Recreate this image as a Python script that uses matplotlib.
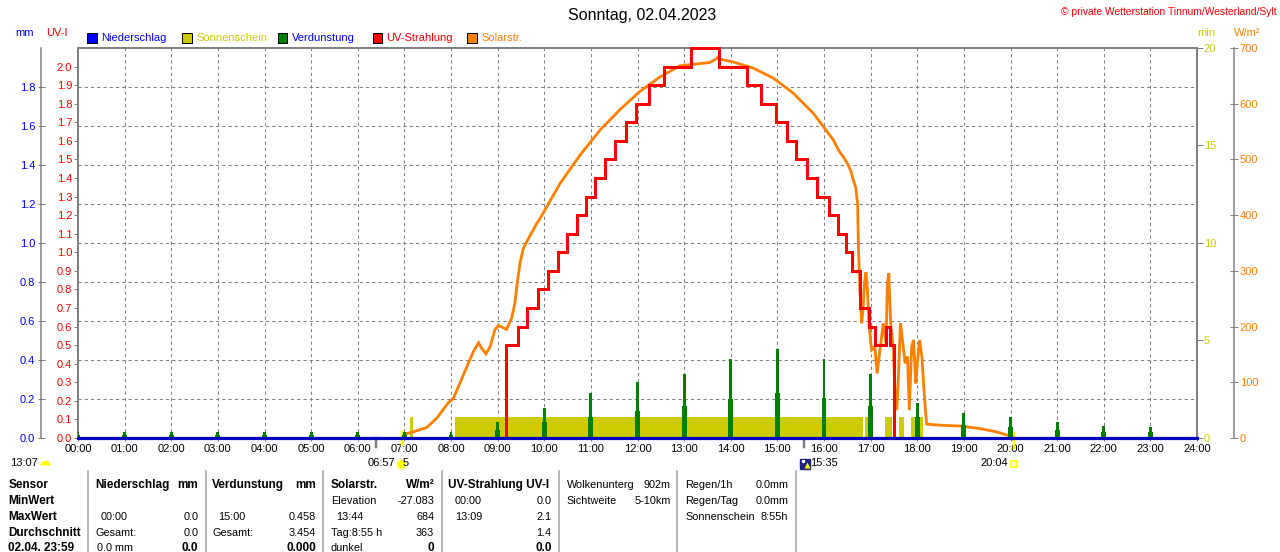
import numpy as np
import matplotlib
matplotlib.use("Agg")
import matplotlib.pyplot as plt
from matplotlib.patches import Rectangle
from matplotlib.lines import Line2D

# ---------------- data ----------------
hours = list(range(25))
hour_labels = [f"{h:02d}:00" for h in hours]

# Niederschlag (mm) - zero all day
rain_t = list(range(25))
rain_v = [0.0] * 25

# Verdunstung (mm) spikes at each hour: peak and shoulder value
evap_hours = list(range(24))
evap_peak = [0.03, 0.03, 0.03, 0.03, 0.03, 0.03, 0.03, 0.03, 0.03, 0.08, 0.155, 0.23,
             0.285, 0.33, 0.405, 0.456, 0.407, 0.33, 0.18, 0.13, 0.106, 0.08, 0.06, 0.055]
evap_base = [0.015, 0.015, 0.015, 0.015, 0.015, 0.015, 0.015, 0.015, 0.015, 0.04, 0.08, 0.11,
             0.14, 0.165, 0.20, 0.23, 0.205, 0.165, 0.11, 0.067, 0.058, 0.04, 0.03, 0.03]

# Sonnenschein (min) intervals
sun_start = [7.11, 8.09, 16.87, 17.31, 17.60, 17.87]
sun_end = [7.18, 16.83, 16.98, 17.46, 17.72, 18.13]
sun_val = [1.1, 1.1, 1.1, 1.1, 1.1, 1.1]

# UV index steps
uv_t = [0, 9.18, 9.43, 9.64, 9.86, 10.09, 10.30, 10.49, 10.70, 10.89, 11.09, 11.31, 11.51,
        11.75, 11.96, 12.25, 12.56, 13.15, 13.75, 14.34, 14.64, 14.96, 15.20, 15.40, 15.64,
        15.86, 16.11, 16.30, 16.47, 16.61, 16.77, 16.97, 17.09, 17.34, 17.41, 17.50, 24]
uv_v = [0.0, 0.5, 0.6, 0.7, 0.8, 0.9, 1.0, 1.1, 1.2, 1.3, 1.4, 1.5, 1.6, 1.7, 1.8, 1.9, 2.0,
        2.1, 2.0, 1.9, 1.8, 1.7, 1.6, 1.5, 1.4, 1.3, 1.2, 1.1, 1.0, 0.9, 0.7, 0.6, 0.5, 0.6,
        0.5, 0.0, 0.0]

# Solar radiation (W/m2)
solar_t = [7.00, 7.05, 7.19, 7.48, 7.69, 7.94, 8.05, 8.19, 8.34, 8.48, 8.59, 8.66, 8.75, 8.84,
           8.94, 9.02, 9.19, 9.30, 9.37, 9.42, 9.48, 9.55, 9.66, 9.84, 9.91, 10.34, 10.77,
           11.20, 11.62, 12.05, 12.48, 12.91, 13.34, 13.55, 13.68, 13.73, 13.77, 14.05, 14.48,
           14.91, 15.34, 15.77, 16.20, 16.31, 16.45, 16.52, 16.58, 16.62, 16.68, 16.72, 16.74,
           16.77, 16.81, 16.84, 16.87, 16.90, 16.93, 16.97, 17.02, 17.09, 17.14, 17.20, 17.27,
           17.33, 17.36, 17.39, 17.43, 17.49, 17.52, 17.56, 17.59, 17.64, 17.69, 17.74, 17.79,
           17.83, 17.88, 17.92, 17.97, 18.00, 18.05, 18.10, 18.13, 18.17, 18.20, 18.49, 18.92,
           19.34, 19.70, 19.99, 20.06]
solar_v = [3, 8, 11, 19, 35, 63, 71, 98, 128, 155, 171, 161, 151, 164,
           194, 202, 195, 215, 242, 278, 314, 340, 358, 385, 394, 457, 508,
           553, 589, 622, 648, 668, 672, 674, 680, 684, 680, 675, 664,
           646, 619, 583, 535, 517, 500, 490, 478, 465, 450, 421, 337,
           266, 206, 236, 280, 298, 266, 200, 158, 164, 116, 158, 206,
           170, 278, 296, 206, 158, 86, 50, 98, 206, 170, 134, 146,
           50, 164, 176, 98, 134, 176, 146, 104, 56, 25, 23, 21.5,
           17, 11, 3.6, 0]

mm_ticks = [0.0, 0.2, 0.4, 0.6, 0.8, 1.0, 1.2, 1.4, 1.6, 1.8]
uv_ticks = [round(0.1 * i, 1) for i in range(21)]
min_ticks = [0, 5, 10, 15, 20]
w_ticks = [0, 100, 200, 300, 400, 500, 600, 700]

sunrise = 6.95
sunset = 20.07
mark_a = 6.40
mark_b = 15.58

# ---------------- style ----------------
plt.rcParams['font.family'] = ['Liberation Sans', 'DejaVu Sans']
GRAY = '#808080'
BLUE = '#0000ff'
RED = '#ff0000'
YEL = '#cccc00'
GREEN = '#008000'
ORANGE = '#ff8000'
PT = 0.72  # points per pixel at 100 dpi

W_PX, H_PX = 1280, 552
def fx(x): return x / W_PX
def fy(y): return 1 - y / H_PX

fig = plt.figure(figsize=(12.8, 5.52), dpi=100)
L, R, T, B = 78, 1197, 48, 438
ax = fig.add_axes([fx(L), fy(B), (R - L) / W_PX, (B - T) / H_PX])
ax.set_xlim(0, 24)
ax.set_ylim(0, 2.0)
ax.set_xticks(hours)
ax.set_xticklabels(hour_labels)
ax.tick_params(axis='x', length=3 * PT, width=1 * PT, color=GRAY, labelsize=8, pad=2.5)
ax.set_yticks(mm_ticks[1:])
ax.tick_params(axis='y', length=0, labelleft=False)
ax.grid(True, color=GRAY, linestyle=(0, (3, 3)), linewidth=0.75)
for s in ax.spines.values():
    s.set_color(GRAY)
    s.set_linewidth(2 * PT)

# Sonnenschein axis (right, min)
ax_min = ax.twinx()
ax_min.set_ylim(0, 20)
for s in ax_min.spines.values():
    s.set_visible(False)
ax_min.set_yticks(min_ticks)
ax_min.set_yticklabels([str(v) for v in min_ticks])
ax_min.tick_params(axis='y', colors=GRAY, labelcolor=YEL, length=6 * PT, width=1 * PT,
                   labelsize=8, pad=0.5)
ax_min.bar(sun_start, sun_val, width=np.array(sun_end) - np.array(sun_start), align='edge',
           color=YEL, linewidth=0)

# Solar axis (W/m2)
ax_w = ax.twinx()
ax_w.set_ylim(0, 700)
for n, s in ax_w.spines.items():
    s.set_visible(n == 'right')
ax_w.spines['right'].set_position(('axes', (1234.3 - L) / (R - L)))
ax_w.spines['right'].set_color(GRAY)
ax_w.spines['right'].set_linewidth(1.5 * PT)
ax_w.set_yticks(w_ticks)
ax_w.set_yticklabels([str(v) for v in w_ticks])
ax_w.tick_params(axis='y', direction='inout', colors=GRAY, labelcolor=ORANGE, length=8 * PT,
                 width=1 * PT, labelsize=8, pad=1)
ax_w.plot(solar_t, solar_v, color=ORANGE, linewidth=2.8 * PT, solid_joinstyle='miter')

# UV axis (left, on plot spine)
ax_uv = ax.twinx()
ax_uv.yaxis.tick_left()
ax_uv.yaxis.set_label_position('left')
ax_uv.set_ylim(0, 2.1)
for s in ax_uv.spines.values():
    s.set_visible(False)
ax_uv.set_yticks(uv_ticks)
ax_uv.set_yticklabels([f"{v:.1f}" for v in uv_ticks])
ax_uv.tick_params(axis='y', colors=GRAY, labelcolor=RED, length=4.5 * PT, width=1 * PT,
                  labelsize=8, pad=1)
ax_uv.plot(uv_t, uv_v, drawstyle='steps-post', color=RED, linewidth=3 * PT, clip_on=False,
           solid_joinstyle='miter')

# mm axis (offset left) with Verdunstung and Niederschlag
ax_mm = ax.twinx()
ax_mm.yaxis.tick_left()
ax_mm.yaxis.set_label_position('left')
ax_mm.set_ylim(0, 2.0)
for n, s in ax_mm.spines.items():
    s.set_visible(n == 'left')
ax_mm.spines['left'].set_position(('axes', (40.7 - L) / (R - L)))
ax_mm.spines['left'].set_color(GRAY)
ax_mm.spines['left'].set_linewidth(1.5 * PT)
ax_mm.set_yticks(mm_ticks)
ax_mm.set_yticklabels([f"{v:.1f}" for v in mm_ticks])
ax_mm.tick_params(axis='y', direction='inout', colors=GRAY, labelcolor=BLUE, length=7 * PT,
                  width=1 * PT, labelsize=8, pad=1.5)
ax_mm.bar(evap_hours, evap_base, width=0.107, color=GREEN, linewidth=0)
ax_mm.bar(evap_hours, evap_peak, width=0.064, color=GREEN, linewidth=0)
ax_mm.plot(rain_t, rain_v, drawstyle='steps-post', color='#0000c0', linewidth=3.2 * PT,
           clip_on=False)

# markers below the time axis (sunrise / sunset etc.)
ax.plot([sunrise, sunrise], [-0.036, 0.03], color='#ffff00', linewidth=2.5 * PT, clip_on=False)
ax.plot([sunset, sunset], [-0.05, 0.025], color='#ffff00', linewidth=2.5 * PT, clip_on=False)
ax.plot([mark_a, mark_a], [0, -0.045], color=GRAY, linewidth=2.5 * PT, clip_on=False)
ax.plot([mark_b, mark_b], [0, -0.045], color=GRAY, linewidth=2.5 * PT, clip_on=False)

# ---------------- texts ----------------
fig.text(fx(642), fy(15.5), "Sonntag, 02.04.2023", ha='center', va='center', fontsize=11.5)
fig.text(fx(1277), fy(12), "\u00a9 private Wetterstation Tinnum/Westerland/Sylt", ha='right',
         va='center', fontsize=7.4, color=RED)

fig.text(fx(15), fy(33), "mm", ha='left', va='center', fontsize=8, color=BLUE)
fig.text(fx(45.7), fy(33), "UV-I", ha='left', va='center', fontsize=8, color=RED)
fig.text(fx(1197.6), fy(33), "min", ha='left', va='center', fontsize=8, color=YEL)
fig.text(fx(1234), fy(33), "W/m\u00b2", ha='left', va='center', fontsize=8, color=ORANGE)

legend_items = [(87, BLUE, "Niederschlag", BLUE), (182, YEL, "Sonnenschein", YEL),
                (277.5, GREEN, "Verdunstung", BLUE), (372.6, RED, "UV-Strahlung", RED),
                (467, ORANGE, "Solarstr.", ORANGE)]
for x0, fc, lab, tc in legend_items:
    fig.add_artist(Rectangle((fx(x0), fy(43)), 9.5 / W_PX, 10 / H_PX, transform=fig.transFigure,
                             facecolor=fc, edgecolor='black', linewidth=1 * PT))
    fig.text(fx(x0 + 14), fy(38), lab, ha='left', va='center', fontsize=8, color=tc)

# bottom annotations
fig.text(fx(10), fy(463), "13:07", ha='left', va='center', fontsize=8)
fig.add_artist(Line2D([fx(44.5)], [fy(465)], marker='o', fillstyle='top', markersize=7,
                      markerfacecolor='#ffff00', markeredgecolor='none',
                      transform=fig.transFigure))
fig.text(fx(367.7), fy(463), "06:57", ha='left', va='center', fontsize=8)
fig.add_artist(Line2D([fx(401)], [fy(464)], marker='o', markersize=6.5,
                      markerfacecolor='#ffff00', markeredgecolor='#ffff80',
                      transform=fig.transFigure))
fig.text(fx(403), fy(463), "5", ha='left', va='center', fontsize=8)
fig.add_artist(Line2D([fx(805)], [fy(463.5)], marker='s', markersize=7,
                      markerfacecolor='#202080', markeredgecolor='#202080',
                      transform=fig.transFigure))
fig.add_artist(Line2D([fx(806.5)], [fy(465)], marker='^', markersize=4,
                      markerfacecolor='#ffff00', markeredgecolor='none',
                      transform=fig.transFigure))
fig.add_artist(Line2D([fx(802.5)], [fy(460.5)], marker='o', markersize=2.5,
                      markerfacecolor='white', markeredgecolor='none',
                      transform=fig.transFigure))
fig.text(fx(810.5), fy(463), "15:35", ha='left', va='center', fontsize=8)
fig.text(fx(980.7), fy(463), "20:04", ha='left', va='center', fontsize=8)
fig.add_artist(Line2D([fx(1014.3)], [fy(464.3)], marker='s', markersize=4, fillstyle='none',
                      markeredgecolor='#ffff00', markeredgewidth=1.2,
                      transform=fig.transFigure))

# ---------------- table ----------------
rows_y = [485, 501, 516.7, 532.7, 548.3]
for xs in [88.3, 205.7, 323.3, 442, 559, 677.3, 796]:
    fig.add_artist(Line2D([fx(xs), fx(xs)], [fy(471), fy(552)], color='#a0a0a0',
                          linewidth=1.5 * PT, transform=fig.transFigure))

BF, RF = 8.5, 7.8
def tl(x, r, s, bold=False, ha='left'):
    fig.text(fx(x), fy(rows_y[r]), s, ha=ha, va='center', fontsize=BF if bold else RF,
             fontweight='bold' if bold else 'normal', color='black')

for r, s in enumerate(["Sensor", "MinWert", "MaxWert", "Durchschnitt", "02.04. 23:59"]):
    tl(8.3, r, s, bold=True)

tl(95, 0, "Niederschlag", bold=True); tl(198.3, 0, "mm", bold=True, ha='right')
tl(100.7, 2, "00:00"); tl(198.3, 2, "0.0", ha='right')
tl(95, 3, "Gesamt:"); tl(198.3, 3, "0.0", ha='right')
tl(97.3, 4, "0.0 mm"); tl(198.3, 4, "0.0", bold=True, ha='right')

tl(212.3, 0, "Verdunstung", bold=True); tl(316, 0, "mm", bold=True, ha='right')
tl(218.3, 2, "15:00"); tl(316, 2, "0.458", ha='right')
tl(212.3, 3, "Gesamt:"); tl(316, 3, "3.454", ha='right')
tl(316, 4, "0.000", bold=True, ha='right')

tl(330.7, 0, "Solarstr.", bold=True); tl(434.3, 0, "W/m\u00b2", bold=True, ha='right')
tl(330.7, 1, "Elevation"); tl(434.3, 1, "-27.083", ha='right')
tl(336, 2, "13:44"); tl(434.3, 2, "684", ha='right')
tl(330.7, 3, "Tag:8:55 h"); tl(434.3, 3, "363", ha='right')
tl(330.7, 4, "dunkel"); tl(434.3, 4, "0", bold=True, ha='right')

tl(448.3, 0, "UV-Strahlung UV-I", bold=True)
tl(455, 1, "00:00"); tl(551.7, 1, "0.0", ha='right')
tl(455, 2, "13:09"); tl(551.7, 2, "2.1", ha='right')
tl(551.7, 3, "1.4", ha='right')
tl(551.7, 4, "0.0", bold=True, ha='right')

tl(566.7, 0, "Wolkenunterg"); tl(671, 0, "902m", ha='right')
tl(566.7, 1, "Sichtweite"); tl(671, 1, "5-10km", ha='right')

tl(685, 0, "Regen/1h"); tl(788.3, 0, "0.0mm", ha='right')
tl(685, 1, "Regen/Tag"); tl(788.3, 1, "0.0mm", ha='right')
tl(685, 2, "Sonnenschein"); tl(788.3, 2, "8:55h", ha='right')

fig.savefig("out.png", dpi=100)
